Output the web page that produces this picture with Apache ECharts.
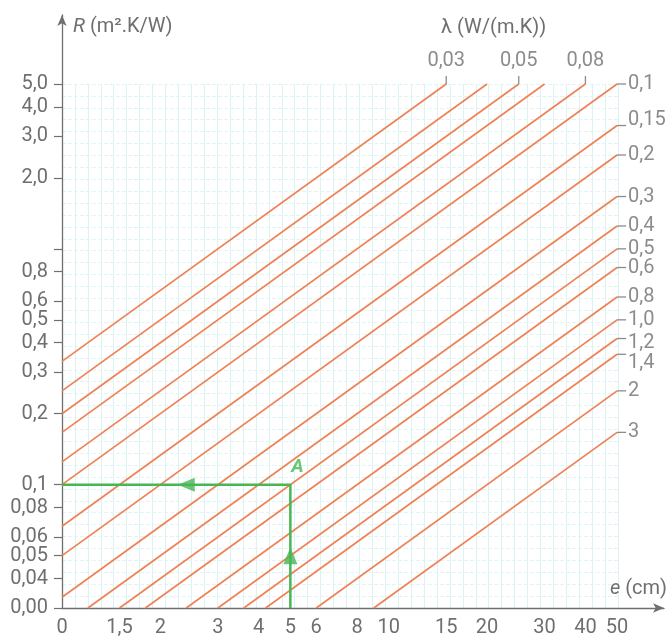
<!DOCTYPE html>
<html>
<head>
<meta charset="utf-8">
<script src="https://cdn.jsdelivr.net/npm/echarts@6/dist/echarts.min.js"></script>
<style>
html, body { margin: 0; padding: 0; background: #fff; }
#chart { width: 670px; height: 641px; }
</style>
</head>
<body>
<div id="chart"></div>
<script>
// droites R = e / lambda  (e en cm)
var lambdas = [0.03, 0.04, 0.05, 0.06, 0.08, 0.1, 0.15, 0.2, 0.3, 0.4, 0.5, 0.6, 0.8, 1.0, 1.2, 1.4, 2, 3];
var topLambdas = [0.03, 0.05, 0.08];
var topLabels = ['0,03', '0,05', '0,08'];
var rightLambdas = [0.1, 0.15, 0.2, 0.3, 0.4, 0.5, 0.6, 0.8, 1.0, 1.2, 1.4, 2, 3];
var rightLabels = ['0,1', '0,15', '0,2', '0,3', '0,4', '0,5', '0,6', '0,8', '1,0', '1,2', '1,4', '2', '3'];
var eTicks = [1, 1.5, 2, 3, 4, 5, 6, 8, 10, 15, 20, 30, 40, 50];
var eLabels = ['0', '1,5', '2', '3', '4', '5', '6', '8', '10', '15', '20', '30', '40', '50'];
var rTicks = [0.03, 0.04, 0.05, 0.06, 0.08, 0.1, 0.2, 0.3, 0.4, 0.5, 0.6, 0.8, 1, 2, 3, 4, 5];
var rLabels = ['0,00', '0,04', '0,05', '0,06', '0,08', '0,1', '0,2', '0,3', '0,4', '0,5', '0,6', '0,8', '', '2,0', '3,0', '4,0', '5,0'];
var eRange = [1, 50];
var rRange = [0.03, 5];
// exemple : point A
var pathA = [[5, 0.03], [5, 0.1], [1, 0.1]];
var pointA = [5, 0.1];
var arrowUp = [5, 0.05];
var arrowLeft = [2.4, 0.1];

var gray = '#6f6f6f';
var orange = '#ef8155';
var green = '#47b654';
var font = 'Roboto, "DejaVu Sans", sans-serif';
var fs = 20;

// zone du quadrillage et prolongement des axes (fleches)
var plot = { left: 62, right: 618, top: 84, bottom: 608 };
var axisEnd = { x: 665, y: 15 };
var xMax = eRange[0] * Math.pow(eRange[1] / eRange[0], (axisEnd.x - plot.left) / (plot.right - plot.left));
var yMax = rRange[0] * Math.pow(rRange[1] / rRange[0], (plot.bottom - axisEnd.y) / (plot.bottom - plot.top));

function R(e, l) { return e / (100 * l); }

function lookup(ticks, labels, v) {
    for (var i = 0; i < ticks.length; i++) {
        if (Math.abs(Math.log(ticks[i]) - Math.log(v)) < 1e-6) return labels[i];
    }
    return '';
}

// petits decalages des etiquettes trop serrees a droite
function nudge(l) {
    if (l === 0.15) return -6;
    if (l === 1.2) return 4;
    if (l === 1.4) return 9;
    return 0;
}

var series = [];
lambdas.forEach(function (l) {
    var e0 = Math.max(eRange[0], rRange[0] * 100 * l);
    var e1 = Math.min(eRange[1], rRange[1] * 100 * l);
    series.push({
        type: 'line', symbol: 'none', silent: true, z: 3,
        lineStyle: { color: orange, width: 1.7 },
        data: [[e0, R(e0, l)], [e1, R(e1, l)]]
    });
});

series.push({
    type: 'line', symbol: 'none', silent: true, z: 5,
    lineStyle: { color: green, width: 2.5 },
    data: pathA
});
series.push({
    type: 'scatter', symbol: 'triangle', symbolSize: [14, 17], z: 6, clip: false,
    itemStyle: { color: green },
    data: [{ value: arrowUp, symbolRotate: 0 }, { value: arrowLeft, symbolRotate: 90 }]
});
series.push({
    type: 'scatter', symbolSize: 0, z: 6, clip: false,
    label: {
        show: true, position: 'inside', offset: [7, -17], formatter: 'A',
        color: green, fontSize: 19, fontStyle: 'italic', fontWeight: 'bold', fontFamily: font
    },
    data: [pointA]
});
// reperes lambda en haut
series.push({
    type: 'scatter', symbol: 'rect', symbolSize: [1.3, 8], symbolOffset: [0, -4], clip: false, z: 4,
    itemStyle: { color: gray },
    label: { show: true, position: 'top', distance: 5, formatter: '{b}', color: gray, fontSize: fs, fontFamily: font },
    data: topLambdas.map(function (l, i) {
        return { name: topLabels[i], value: [rRange[1] * 100 * l, rRange[1]] };
    })
});
// reperes lambda a droite
series.push({
    type: 'scatter', symbol: 'rect', symbolSize: [9, 1.3], symbolOffset: [4.5, 0], clip: false, z: 4,
    itemStyle: { color: gray },
    label: { show: true, position: 'right', distance: 2, formatter: '{b}', color: gray, fontSize: fs, fontFamily: font },
    data: rightLambdas.map(function (l, i) {
        return {
            name: rightLabels[i], value: [eRange[1], R(eRange[1], l)],
            label: { offset: [0, nudge(l)] }
        };
    })
});

var chart = echarts.init(document.getElementById('chart'));
chart.setOption({
    animation: false,
    backgroundColor: '#fff',
    title: {
        text: 'λ (W/(m.K))', left: 436, top: 13,
        textStyle: { color: gray, fontSize: fs, fontWeight: 'normal', fontFamily: font }
    },
    grid: [
        { left: plot.left, right: 670 - axisEnd.x, top: axisEnd.y, bottom: 641 - plot.bottom },
        { left: plot.left, right: 670 - plot.right, top: plot.top, bottom: 641 - plot.bottom }
    ],
    xAxis: [{
        type: 'log', gridIndex: 0, min: eRange[0], max: xMax,
        name: '{i|e} (cm)', nameLocation: 'end', nameGap: 3,
        nameTextStyle: {
            align: 'right', verticalAlign: 'bottom', padding: [0, 0, 9, 0],
            color: gray, fontSize: fs, fontFamily: font,
            rich: { i: { fontStyle: 'italic', color: gray, fontSize: fs, fontFamily: font } }
        },
        axisLine: { lineStyle: { color: gray, width: 1.3 }, symbol: ['none', 'arrow'], symbolSize: [7, 11] },
        axisTick: { show: false },
        splitLine: { show: false },
        axisLabel: {
            customValues: eTicks, margin: 10, color: gray, fontSize: fs, fontFamily: font,
            formatter: function (v) { return lookup(eTicks, eLabels, v); }
        }
    }, {
        type: 'value', gridIndex: 1, min: 0, max: 43, interval: 1,
        axisLine: { show: false }, axisTick: { show: false }, axisLabel: { show: false },
        splitLine: { lineStyle: { color: '#dcf3f3', width: 1 } }
    }],
    yAxis: [{
        type: 'log', gridIndex: 0, min: rRange[0], max: yMax,
        name: '{i|R} (m².K/W)', nameLocation: 'end', nameGap: -12,
        nameTextStyle: {
            align: 'left', verticalAlign: 'middle', padding: [0, 0, 0, 11],
            color: gray, fontSize: fs, fontFamily: font,
            rich: { i: { fontStyle: 'italic', color: gray, fontSize: fs, fontFamily: font } }
        },
        axisLine: { lineStyle: { color: gray, width: 1.3 }, symbol: ['none', 'arrow'], symbolSize: [7, 11] },
        axisTick: { customValues: rTicks, length: 8, lineStyle: { color: gray, width: 1.2 } },
        splitLine: { show: false },
        axisLabel: {
            customValues: rTicks, margin: 14, color: gray, fontSize: fs, fontFamily: font,
            formatter: function (v) { return lookup(rTicks, rLabels, v); }
        }
    }, {
        type: 'value', gridIndex: 1, min: 0, max: 44, interval: 1,
        axisLine: { show: false }, axisTick: { show: false }, axisLabel: { show: false },
        splitLine: { lineStyle: { color: '#e0f5f5', width: 1, type: [4, 2] } }
    }],
    series: series
});
</script>
</body>
</html>
